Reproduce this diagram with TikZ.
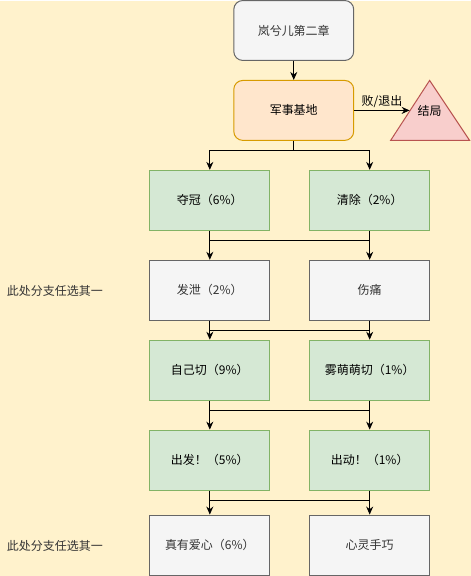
\documentclass[tikz,border=0pt]{standalone}
\usepackage{fontspec}
\setmainfont{Noto Sans CJK SC}
\usetikzlibrary{arrows.meta}
\definecolor{bgyellow}{HTML}{FFF2CC}
\definecolor{greyfill}{HTML}{F5F5F5}
\definecolor{greyline}{HTML}{666666}
\definecolor{greytext}{HTML}{333333}
\definecolor{orangefill}{HTML}{FFE6CC}
\definecolor{orangeline}{HTML}{D79B00}
\definecolor{greenfill}{HTML}{D5E8D4}
\definecolor{greenline}{HTML}{82B366}
\definecolor{redfill}{HTML}{F8CECC}
\definecolor{redline}{HTML}{B85450}
\begin{document}
\begin{tikzpicture}[x=1pt,y=-1pt,font=\fontsize{12}{14}\selectfont,
    box/.style={draw,line width=1pt,minimum width=120pt,minimum height=60pt,inner sep=0pt},
    greybox/.style={box,fill=greyfill,draw=greyline,text=greytext},
    greenbox/.style={box,fill=greenfill,draw=greenline},
    link/.style={line width=1pt},
    arr/.style={link,-{Stealth[length=8pt,width=7pt]}}]
    \fill[bgyellow] (0,0) rectangle (471,576);

    \node[greybox,rounded corners=9pt] (ch2) at (294,30) {岚兮儿第二章};
    \node[box,rounded corners=9pt,fill=orangefill,draw=orangeline] (base) at (294,110) {军事基地};
    \filldraw[fill=redfill,draw=redline,line width=1pt] (391,140) -- (430,80) -- (470,140) -- cycle;
    \node (end) at (430,111) {结局};
    \coordinate (endtip) at (410,110);

    \node[greenbox] (win) at (210,200) {夺冠（6\%）};
    \node[greenbox] (clear) at (370,200) {清除（2\%）};
    \node[greybox] (vent) at (210,290) {发泄（2\%）};
    \node[greybox] (hurt) at (370,290) {伤痛};
    \node[greenbox] (cutself) at (210,370) {自己切（9\%）};
    \node[greenbox] (cutmm) at (370,370) {雾萌萌切（1\%）};
    \node[greenbox] (go) at (210,460) {出发！（5\%）};
    \node[greenbox] (move) at (370,460) {出动！（1\%）};
    \node[greybox] (love) at (210,545) {真有爱心（6\%）};
    \node[greybox] (skill) at (370,545) {心灵手巧};

    \node[text=greytext] (pick1) at (55,291) {此处分支任选其一};
    \node[text=greytext] (pick2) at (55,546) {此处分支任选其一};

    \coordinate (j0) at (294,150);
    \coordinate (j1) at (210,240);
    \coordinate (j2) at (210,330);
    \coordinate (j3) at (210,410);
    \coordinate (j4) at (210,500);

    \draw[arr] (ch2) -- (base);
    \draw[arr] (base) -- (endtip) node[midway,above,yshift=-1pt] {败/退出};

    \draw[link] (base.south) -- (j0);
    \draw[link] (j0 -| win) -- (j0 -| clear);
    \draw[arr] (j0 -| win) -- (win.north);
    \draw[arr] (j0 -| clear) -- (clear.north);

    \draw[arr] (win) -- (vent);
    \draw[arr] (clear) -- (hurt);
    \draw[link] (j1) -- (j1 -| clear);

    \draw[arr] (vent) -- (cutself);
    \draw[arr] (hurt) -- (cutmm);
    \draw[link] (j2) -- (j2 -| hurt);

    \draw[arr] (cutself) -- (go);
    \draw[arr] (cutmm) -- (move);
    \draw[link] (j3) -- (j3 -| cutmm);

    \draw[arr] (go) -- (love);
    \draw[arr] (move) -- (skill);
    \draw[link] (j4) -- (j4 -| move);
\end{tikzpicture}
\end{document}
